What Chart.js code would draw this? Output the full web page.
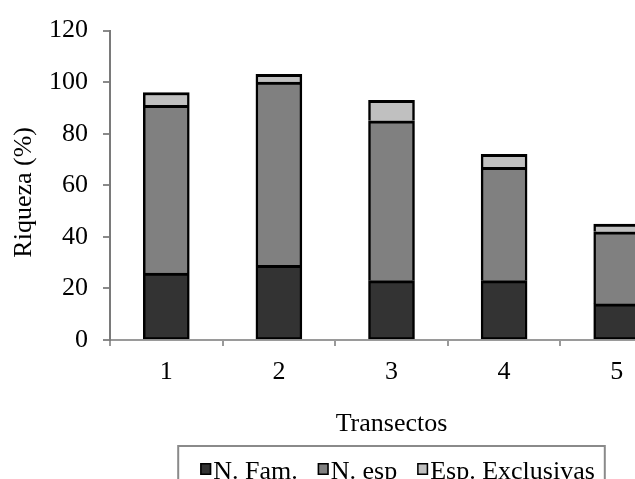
<!DOCTYPE html>
<html>
<head>
<meta charset="utf-8">
<script src="https://cdn.jsdelivr.net/npm/chart.js@4/dist/chart.umd.min.js"></script>
<style>
  html, body { margin: 0; padding: 0; background: #fff; overflow: hidden; width: 635px; height: 479px; }
  canvas { display: block; }
</style>
</head>
<body>
<canvas id="chart" width="685" height="479"></canvas>
<script>
// Riqueza (%) por transecto
const transectos = ['1', '2', '3', '4', '5'];
const nFam = [26, 29, 23, 23, 14];
const nEsp = [65, 71, 62, 44, 28];
const espExclusivas = [5, 3, 8, 5, 3];
const yTickValues = [0, 20, 40, 60, 80, 100, 120];

const serif = "'Liberation Serif', 'Times New Roman', serif";
const fontSize = 26;

// Rotated title for the value axis
const yTitlePlugin = {
  id: 'yTitle',
  afterDraw(chart) {
    const { ctx, chartArea } = chart;
    ctx.save();
    ctx.translate(24, (chartArea.top + chartArea.bottom) / 2 + 7);
    ctx.rotate(-Math.PI / 2);
    ctx.font = fontSize + 'px ' + serif;
    ctx.fillStyle = '#000';
    ctx.textAlign = 'center';
    ctx.textBaseline = 'middle';
    ctx.fillText('Riqueza (%)', 0, 0);
    ctx.restore();
  }
};

// Boxed legend under the axis title
const boxedLegendPlugin = {
  id: 'boxedLegend',
  afterDraw(chart) {
    const { ctx, chartArea } = chart;
    const sets = chart.data.datasets;
    ctx.save();
    ctx.font = fontSize + 'px ' + serif;
    const sq = 11, gapText = 2, gapItem = 20;
    const widths = sets.map(d => ctx.measureText(d.label).width);
    let content = 0;
    widths.forEach((w, i) => { content += sq + gapText + w + (i < widths.length - 1 ? gapItem : 0); });
    const padL = 22, padR = 10;
    const boxW = content + padL + padR;
    const cx = (chartArea.left + chartArea.right) / 2;
    const boxL = cx - boxW / 2;
    const boxTop = 446;
    ctx.strokeStyle = '#8a8a8a';
    ctx.lineWidth = 2;
    ctx.strokeRect(boxL, boxTop, boxW, 60);
    let x = boxL + padL;
    const baseline = 479;
    sets.forEach((d, i) => {
      ctx.fillStyle = d.backgroundColor;
      ctx.fillRect(x, 463, sq, 12);
      ctx.strokeStyle = '#000';
      ctx.lineWidth = 1.5;
      ctx.strokeRect(x + 0.75, 463.75, sq - 1.5, 10.5);
      x += sq + gapText;
      ctx.fillStyle = '#000';
      ctx.textAlign = 'left';
      ctx.textBaseline = 'alphabetic';
      ctx.fillText(d.label, x, baseline);
      x += widths[i] + gapItem;
    });
    ctx.restore();
  }
};

const barStyle = {
  borderColor: '#000',
  borderWidth: { top: 3, left: 2.5, right: 2.5, bottom: 0 },
  borderSkipped: 'start',
  barThickness: 46
};

new Chart(document.getElementById('chart'), {
  type: 'bar',
  data: {
    labels: transectos,
    datasets: [
      Object.assign({ label: 'N. Fam.', data: nFam, backgroundColor: '#333333' }, barStyle,
        { borderWidth: { top: 3, left: 2.5, right: 2.5, bottom: 2 }, borderSkipped: false }),
      Object.assign({ label: 'N. esp', data: nEsp, backgroundColor: '#808080' }, barStyle),
      Object.assign({ label: 'Esp. Exclusivas', data: espExclusivas, backgroundColor: '#c0c0c0' }, barStyle)
    ]
  },
  options: {
    responsive: false,
    animation: false,
    devicePixelRatio: 1,
    layout: { padding: { top: 27, right: 12, bottom: 39, left: 0 } },
    plugins: {
      legend: { display: false },
      tooltip: { enabled: false }
    },
    scales: {
      x: {
        stacked: true,
        grid: { display: true, drawOnChartArea: false, drawTicks: true, tickLength: 6, color: '#9a9a9a', lineWidth: 2 },
        border: { display: true, color: '#9a9a9a', width: 2 },
        ticks: { color: '#000', font: { family: serif, size: fontSize }, padding: 11, maxRotation: 0, autoSkip: false },
        title: { display: true, text: 'Transectos', color: '#000', font: { family: serif, size: fontSize }, padding: 0 },
        afterFit(scale) { scale.height = 100; }
      },
      y: {
        stacked: true,
        min: 0,
        max: 120,
        afterBuildTicks(scale) { scale.ticks = yTickValues.map(v => ({ value: v })); },
        grid: { display: true, drawOnChartArea: false, drawTicks: true, tickLength: 7, color: '#8a8a8a', lineWidth: 2 },
        border: { display: true, color: '#7a7a7a', width: 2 },
        ticks: { color: '#000', font: { family: serif, size: fontSize }, padding: 15 },
        afterFit(scale) { scale.width = 110; }
      }
    }
  },
  plugins: [yTitlePlugin, boxedLegendPlugin]
});
</script>
</body>
</html>
